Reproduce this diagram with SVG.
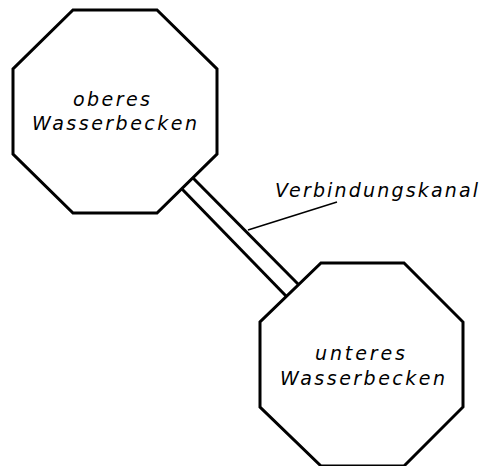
<svg xmlns="http://www.w3.org/2000/svg" width="481" height="466" viewBox="0 0 481 466">
<style>
.oct{fill:#fff;stroke:#000;stroke-width:3;stroke-linejoin:miter}
.ch{stroke:#000;stroke-width:3;fill:none}
.ld{stroke:#000;stroke-width:1.5;fill:none}
text{font-family:"DejaVu Sans","Liberation Sans",sans-serif;font-style:italic;font-size:19px;fill:#000}
</style>
<rect width="481" height="466" fill="#fff"/>
<g id="connectors">
<line class="ch" x1="193" y1="178" x2="298" y2="284"/>
<line class="ch" x1="182" y1="189" x2="286" y2="296"/>
<line class="ld" x1="337" y1="202" x2="248" y2="230"/>
</g>
<g id="oberes">
<polygon class="oct" points="73,10 157,10 217,69 217,154 157,213 73,213 13,154 13,69"/>
<text x="73" y="106" textLength="77" lengthAdjust="spacing">oberes</text>
<text x="32" y="130" textLength="165" lengthAdjust="spacing">Wasserbecken</text>
</g>
<g id="unteres">
<polygon class="oct" points="321,263 404,263 463,322 463,407 404,466 321,466 260,407 260,322"/>
<text x="315" y="360" textLength="90" lengthAdjust="spacing">unteres</text>
<text x="280" y="385" textLength="165" lengthAdjust="spacing">Wasserbecken</text>
</g>
<g id="kanal-label">
<text x="275" y="197" textLength="203" lengthAdjust="spacing">Verbindungskanal</text>
</g>
</svg>
